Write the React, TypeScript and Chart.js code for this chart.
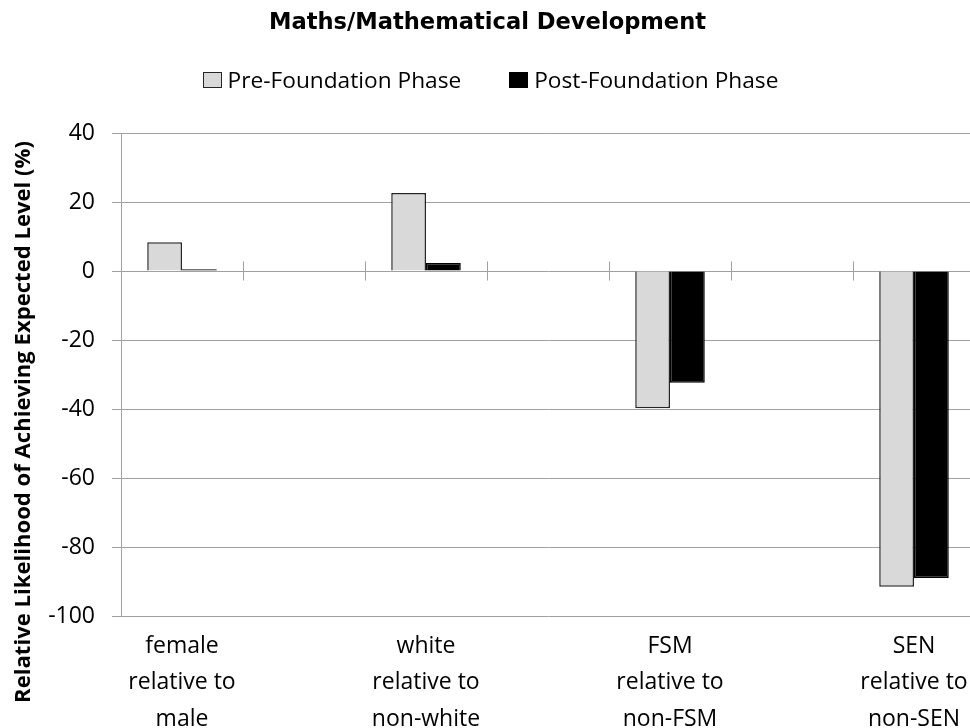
import { useEffect, useRef } from 'react';
import { Chart, registerables } from 'chart.js';

Chart.register(...registerables);

// Category slots: groups are separated by empty slots on the category axis
const categories: (string | string[])[] = [
  ['female', 'relative to', 'male'],
  '',
  ['white', 'relative to', 'non-white'],
  '',
  ['FSM', 'relative to', 'non-FSM'],
  '',
  ['SEN', 'relative to', 'non-SEN'],
];

const preFoundation: (number | null)[] = [8.3, null, 22.6, null, -39.8, null, -91.5];
const postFoundation: (number | null)[] = [0.5, null, 2.3, null, -32.4, null, -89.0];

const seriesNames = ['Pre-Foundation Phase', 'Post-Foundation Phase'];
const chartTitle = 'Maths/Mathematical Development';
const yAxisTitle = 'Relative Likelihood of Achieving Expected Level (%)';

const yMin = -100;
const yMax = 40;
const yStep = 20;

const GRID = '#a0a0a0';
const seriesFill = ['#d9d9d9', '#000000'];
const seriesEdge = ['#262626', '#000000'];

// Short cross marks on the zero line between category slots
const categoryTickMarks = {
  id: 'categoryTickMarks',
  beforeDatasetsDraw(chart: any) {
    const { ctx, scales } = chart;
    const x = scales.x;
    const y = scales.y;
    const y0 = y.getPixelForValue(0);
    ctx.save();
    ctx.strokeStyle = GRID;
    ctx.lineWidth = 1;
    for (let i = 1; i < categories.length; i++) {
      const px = Math.round((x.getPixelForValue(i - 1) + x.getPixelForValue(i)) / 2) + 0.5;
      ctx.beginPath();
      ctx.moveTo(px, y0 - 9.5);
      ctx.lineTo(px, y0 + 9.5);
      ctx.stroke();
    }
    ctx.restore();
  },
};

// Vertical value-axis title, drawn a little below the plot's middle
const rotatedAxisTitle = {
  id: 'rotatedAxisTitle',
  afterDraw(chart: any, _args: any, opts: any) {
    const { ctx, chartArea } = chart;
    ctx.save();
    ctx.translate(opts.x, (chartArea.top + chartArea.bottom) / 2 + opts.shift);
    ctx.rotate(-Math.PI / 2);
    ctx.font = opts.font;
    ctx.fillStyle = opts.color;
    ctx.textAlign = 'center';
    ctx.textBaseline = 'middle';
    ctx.fillText(opts.text, 0, 0);
    ctx.restore();
  },
};

function Legend() {
  return (
    <div
      style={{
        position: 'absolute',
        top: 69,
        left: 0,
        width: 981,
        display: 'flex',
        justifyContent: 'center',
        gap: 48,
        fontFamily: '"Open Sans", sans-serif',
        fontSize: 22.7,
        lineHeight: '22px',
        color: '#000',
        whiteSpace: 'nowrap',
      }}
    >
      {seriesNames.map((name, i) => (
        <div key={name} style={{ display: 'flex', alignItems: 'center' }}>
          <span
            style={{
              display: 'inline-block',
              boxSizing: 'border-box',
              width: 19,
              height: 16,
              background: seriesFill[i],
              border: `1.5px solid ${seriesEdge[i]}`,
              marginRight: 6,
            }}
          />
          <span>{name}</span>
        </div>
      ))}
    </div>
  );
}

export default function App() {
  const canvasRef = useRef<HTMLCanvasElement>(null);

  useEffect(() => {
    if (!canvasRef.current) return;
    const chart = new Chart(canvasRef.current, {
      type: 'bar',
      data: {
        labels: categories,
        datasets: [
          {
            label: seriesNames[0],
            data: preFoundation,
            backgroundColor: seriesFill[0],
            borderColor: seriesEdge[0],
            borderWidth: 1.5,
            categoryPercentage: 0.57,
            barPercentage: 1,
          },
          {
            label: seriesNames[1],
            data: postFoundation,
            backgroundColor: seriesFill[1],
            borderColor: seriesEdge[1],
            borderWidth: 1.5,
            categoryPercentage: 0.57,
            barPercentage: 1,
          },
        ],
      },
      plugins: [categoryTickMarks, rotatedAxisTitle],
      options: {
        responsive: false,
        animation: false,
        layout: { padding: { top: 0, left: 0, right: 5, bottom: 0 } },
        plugins: {
          title: {
            display: true,
            text: chartTitle,
            color: '#000',
            font: { family: 'DejaVu Sans', weight: 'bold', size: 22.6, lineHeight: 1 },
            // the band below the title holds the series key
            padding: { top: 11.5, bottom: 98.9 },
          },
          legend: { display: false },
          tooltip: { enabled: false },
          rotatedAxisTitle: {
            text: yAxisTitle,
            x: 24,
            shift: 47.5,
            font: 'bold 22.1px "Open Sans"',
            color: '#000',
          },
        } as any,
        scales: {
          x: {
            type: 'category',
            offset: true,
            grid: { display: false, drawTicks: false },
            border: { display: false },
            ticks: {
              autoSkip: false,
              maxRotation: 0,
              minRotation: 0,
              color: '#000',
              font: { family: 'Open Sans', size: 23, lineHeight: 1.6 },
              padding: 11.6,
            },
            afterFit: (scale: any) => {
              scale.height = 112;
            },
          },
          y: {
            min: yMin,
            max: yMax,
            ticks: {
              stepSize: yStep,
              color: '#000',
              font: { family: 'Open Sans', size: 23 },
              padding: 17,
            },
            grid: { color: GRID, lineWidth: 1, drawTicks: true, tickLength: 9 },
            border: { display: true, color: GRID, width: 1 },
            afterFit: (scale: any) => {
              scale.width = 121;
            },
          },
        },
      },
    });
    return () => chart.destroy();
  }, []);

  return (
    <div
      style={{
        position: 'fixed',
        left: 0,
        top: 0,
        width: 970,
        height: 728,
        overflow: 'hidden',
        background: '#fff',
      }}
    >
      <canvas ref={canvasRef} width={980} height={728} style={{ display: 'block' }} />
      <Legend />
    </div>
  );
}
